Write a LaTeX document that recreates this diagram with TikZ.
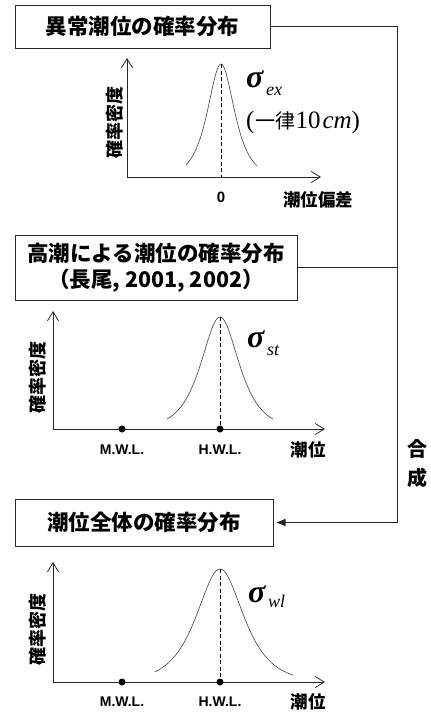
\documentclass[tikz,border=0pt]{standalone}
\usepackage{fontspec}
\newfontfamily\jp{Noto Sans CJK JP}
\newfontfamily\tms{Liberation Serif}
\newfontfamily\ars{Liberation Sans}
\usetikzlibrary{arrows.meta}
\begin{document}
\begin{tikzpicture}[x=1pt,y=-1pt,
  boxnode/.style={draw=black!85, line width=1pt, inner sep=0pt, align=center,
    font=\jp\bfseries\fontsize{21.5}{26}\selectfont},
  axisline/.style={line width=0.8pt, black!85, -{Straight Barb[length=9pt,width=11pt,line width=0.8pt]}},
  bell/.style={line width=0.6pt, black!75, smooth},
  peakline/.style={line width=1pt, dash pattern=on 4pt off 2.5pt},
  dotnode/.style={circle, fill=black, inner sep=0pt, minimum size=7pt},
  ylab/.style={rotate=90, inner sep=0pt, font=\jp\bfseries\fontsize{18}{18}\selectfont},
  jplab/.style={inner sep=0pt, font=\jp\bfseries\fontsize{17.5}{18}\selectfont},
  xlab/.style={inner sep=0pt, font=\ars\bfseries\fontsize{14}{14}\selectfont},
  sigma/.style={inner sep=0pt, anchor=base west, font=\tms\bfseries\itshape\fontsize{32}{32}\selectfont},
  subs/.style={inner sep=0pt, anchor=base west, font=\tms\itshape\fontsize{18}{18}\selectfont},
  conn/.style={line width=0.9pt, black!85}
]
\useasboundingbox (0,0) rectangle (431,715);

% boxes
\node[boxnode, minimum width=255pt, minimum height=43pt] (b1) at (142.5,26.5) {異常潮位の確率分布};
\node[boxnode, minimum width=282pt, minimum height=65pt] (b2) at (156,267.5) {高潮による潮位の確率分布\\（長尾, 2001, 2002）};
\node[boxnode, minimum width=258pt, minimum height=47pt] (b3) at (144,522.5) {潮位全体の確率分布};

% connectors
\coordinate (jtop) at (397,26.5);
\coordinate (jbot) at (397,522.5);
\draw[conn] (b1.east) -- (jtop) -- (jbot);
\draw[conn] (b2.east) -- (b2.east -| jbot);
\draw[conn, -{Triangle[length=9pt,width=7pt]}] (jbot) -- ([xshift=3pt]b3.east);
\node[jplab, font=\jp\bfseries\fontsize{20}{20}\selectfont] (go) at (417,449) {合};
\node[jplab, font=\jp\bfseries\fontsize{20}{20}\selectfont] (sei) at (417,478) {成};

% ---------- plot 1
\coordinate (o1) at (127,177);
\draw[axisline] (o1) -- (127,58);
\draw[axisline] (o1) -- (321,177);
\draw[bell] plot[domain=186:257, samples=80] ({\x},{177-113/cosh((\x-221)/12)});
\draw[peakline] (221,64) -- (221,177);
\node[xlab, font=\ars\bfseries\fontsize{15}{15}\selectfont] (zero) at (221,197) {0};
\node[jplab] (xl1) at (318,200) {潮位偏差};
\node[ylab] (yl1) at (115,122) {確率密度};
\node[sigma] (s1) at (246,87) {σ};
\node[subs] (s1s) at (266,95) {ex};
\node[inner sep=0pt, anchor=base west] (cm) at (246,128)
  {\tms\fontsize{25}{25}\selectfont(\kern1pt{\jp\fontsize{20}{20}\selectfont 一律}10\kern2pt{\itshape cm})};

% ---------- plot 2
\coordinate (o2) at (53,429);
\draw[axisline] (o2) -- (53,311);
\draw[axisline] (o2) -- (325,429);
\draw[bell] plot[domain=167:273, samples=100] ({\x},{429-112/cosh((\x-220)/17)});
\draw[peakline] (220,317) -- (220,429);
\node[dotnode] (m2) at (122,429) {};
\node[dotnode] (h2) at (220,429) {};
\node[xlab] (ml2) at (122,450) {M.W.L.};
\node[xlab] (hl2) at (220,450) {H.W.L.};
\node[jplab] (xl2) at (308,450) {潮位};
\node[ylab] (yl2) at (38,377) {確率密度};
\node[sigma] (s2) at (247,347) {σ};
\node[subs] (s2s) at (267,355) {st};

% ---------- plot 3
\coordinate (o3) at (53,682);
\draw[axisline] (o3) -- (53,562);
\draw[axisline] (o3) -- (325,682);
\draw[bell] plot[domain=155:293, samples=120] ({\x},{682-113/cosh((\x-220)/21)});
\draw[peakline] (220,569) -- (220,682);
\node[dotnode] (m3) at (122,682) {};
\node[dotnode] (h3) at (220,682) {};
\node[xlab] (ml3) at (122,702) {M.W.L.};
\node[xlab] (hl3) at (220,702) {H.W.L.};
\node[jplab] (xl3) at (308,702) {潮位};
\node[ylab] (yl3) at (38,629) {確率密度};
\node[sigma] (s3) at (248,602) {σ};
\node[subs] (s3s) at (268,607) {wl};
\end{tikzpicture}
\end{document}
